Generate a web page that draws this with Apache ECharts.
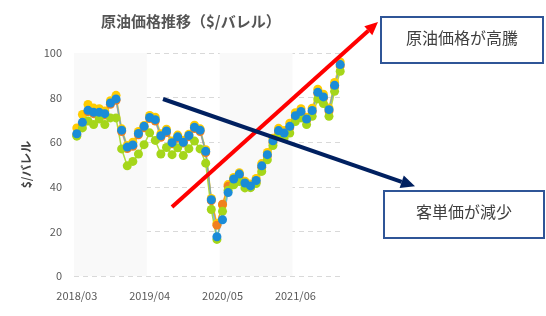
<!DOCTYPE html>
<html>
<head>
<meta charset="utf-8">
<script src="https://cdn.jsdelivr.net/npm/echarts@6/dist/echarts.min.js"></script>
<style>
html,body{margin:0;padding:0;background:#fff;}
#c{width:546px;height:316px;}
</style>
</head>
<body>
<div id="c"></div>
<script>
const categories = [
  "2018/03","2018/04","2018/05","2018/06","2018/07","2018/08","2018/09","2018/10","2018/11","2018/12",
  "2019/01","2019/02","2019/03","2019/04","2019/05","2019/06","2019/07","2019/08","2019/09","2019/10","2019/11","2019/12",
  "2020/01","2020/02","2020/03","2020/04","2020/05","2020/06","2020/07","2020/08","2020/09","2020/10","2020/11","2020/12",
  "2021/01","2021/02","2021/03","2021/04","2021/05","2021/06","2021/07","2021/08","2021/09","2021/10","2021/11","2021/12",
  "2022/01","2022/02"
];
const yellowValues = [
  66.4,72.4,76.9,75.3,75.0,74.0,78.6,81.0,66.0,58.5,
  60.0,64.8,67.5,72.0,71.2,63.8,65.8,60.5,63.2,60.9,63.6,67.6,
  66.0,56.6,34.8,23.5,31.8,41.0,44.2,46.3,42.5,41.3,43.7,50.4,
  55.4,61.8,66.2,65.3,68.5,73.2,75.0,71.2,75.2,83.8,81.5,75.3,
  86.8,96.0
];
const orangeValues = [
  63.3,68.3,73.7,72.8,72.8,72.2,77.0,78.8,64.8,57.2,
  58.2,63.3,66.5,70.6,69.5,62.2,64.3,59.3,61.8,59.6,62.4,66.1,
  64.8,55.3,33.8,22.8,32.2,40.2,43.0,45.1,41.1,39.9,42.2,48.8,
  53.8,60.0,64.6,63.5,66.5,71.3,73.2,69.8,73.6,81.8,79.7,74.0,
  84.9,94.2
];
const greenValues = [
  62.7,66.4,69.5,67.9,70.4,67.9,70.9,70.9,57.0,49.4,
  51.4,54.7,58.9,64.2,60.8,54.7,57.6,54.4,57.5,54.0,57.1,60.5,
  57.0,50.6,29.8,16.4,29.0,38.5,40.9,42.4,39.5,39.6,41.5,46.9,
  52.1,58.5,62.6,61.9,64.1,69.3,70.9,67.9,71.6,79.4,77.3,71.6,
  82.8,91.8
];
const blueValues = [
  63.8,68.9,74.3,73.4,73.4,72.8,77.6,79.4,65.4,57.8,
  58.8,63.9,67.1,71.1,70.1,62.9,65.0,59.8,62.4,60.0,63.0,66.7,
  65.4,55.9,34.2,17.6,25.2,37.4,43.5,45.7,41.7,40.4,42.8,49.4,
  54.4,60.6,65.2,64.1,67.1,71.9,73.8,70.4,74.2,82.4,80.3,74.6,
  85.5,94.8
];
const yTicks = [0, 20, 40, 60, 80, 100];

const FONT = '"Noto Sans CJK JP", "Noto Sans", sans-serif';
const chart = echarts.init(document.getElementById('c'), null, {renderer: 'canvas'});

function mkSeries(name, data, color, lineColor) {
  return {
    name: name, type: 'line', data: data,
    symbol: 'circle', symbolSize: 9,
    showSymbol: true, showAllSymbol: true,
    itemStyle: {color: color},
    lineStyle: {color: lineColor, width: 1.5},
    animation: false
  };
}

const option = {
  animation: false,
  backgroundColor: '#ffffff',
  textStyle: {fontFamily: FONT},
  title: {
    text: '原油価格推移（$/バレル）',
    left: 96, top: 9,
    textStyle: {fontFamily: FONT, fontSize: 15, fontWeight: 'bold', color: '#555555'}
  },
  grid: {left: 74, right: 203, top: 53, bottom: 40, containLabel: false},
  xAxis: {
    type: 'category', data: categories, boundaryGap: true,
    axisLine: {show: false}, axisTick: {show: false, interval: 12},
    axisLabel: {interval: 12, color: '#595959', fontSize: 11, margin: 14, fontFamily: FONT},
    splitLine: {show: false},
    splitArea: {show: true, interval: 12, areaStyle: {color: ['#f9f9f9', 'rgba(255,255,255,0)']}}
  },
  yAxis: {
    type: 'value', min: yTicks[0], max: yTicks[yTicks.length - 1], interval: 20,
    name: '$/バレル', nameLocation: 'middle', nameGap: 42, nameRotate: 90,
    nameTextStyle: {fontFamily: FONT, fontSize: 12, fontWeight: 'bold', color: '#404040'},
    axisLine: {show: false}, axisTick: {show: false},
    axisLabel: {color: '#595959', fontSize: 11, margin: 12, fontFamily: FONT},
    splitLine: {lineStyle: {color: '#d9d9d9', type: [5, 4], width: 1}}
  },
  series: [
    mkSeries('yellow', yellowValues, '#ffcc00', 'rgba(255,204,0,0.8)'),
    mkSeries('orange', orangeValues, '#f0801e', 'rgba(240,128,30,0.7)'),
    mkSeries('green', greenValues, '#a5d61a', 'rgba(165,214,26,0.85)'),
    mkSeries('blue', blueValues, '#1a8cd8', 'rgba(90,170,210,0.8)')
  ],
  graphic: [
    {type: 'line', z: 100, shape: {x1: 172, y1: 207, x2: 368.3, y2: 30.7}, style: {stroke: '#ff0000', lineWidth: 4}},
    {type: 'polygon', z: 100, shape: {points: [[378, 22], [372.3, 35.2], [364.3, 26.2]]}, style: {fill: '#ff0000'}},
    {type: 'line', z: 101, shape: {x1: 163, y1: 99, x2: 401.7, y2: 181.8}, style: {stroke: '#002060', lineWidth: 4}},
    {type: 'polygon', z: 101, shape: {points: [[415, 186.3], [399.6, 187.9], [403.8, 175.6]]}, style: {fill: '#002060'}},
    {type: 'rect', z: 100, shape: {x: 381, y: 17, width: 162, height: 46}, style: {fill: '#ffffff', stroke: '#2f5597', lineWidth: 2}},
    {type: 'text', z: 102, left: 462 - 56, top: 30, style: {text: '原油価格が高騰', font: '16px ' + FONT, fill: '#404040'}},
    {type: 'rect', z: 100, shape: {x: 384, y: 191, width: 160, height: 47}, style: {fill: '#ffffff', stroke: '#2f5597', lineWidth: 2}},
    {type: 'text', z: 102, left: 464 - 48, top: 204, style: {text: '客単価が減少', font: '16px ' + FONT, fill: '#404040'}}
  ]
};
chart.setOption(option);
</script>
</body>
</html>
